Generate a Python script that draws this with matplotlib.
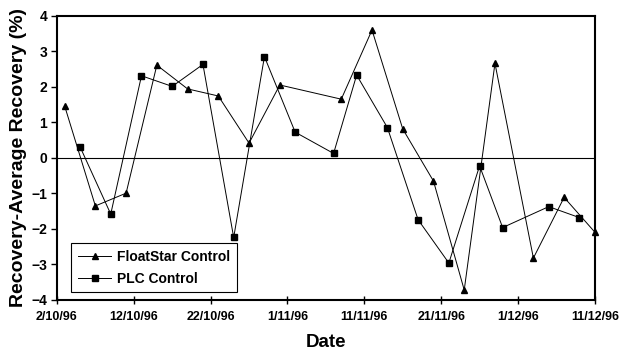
import matplotlib
matplotlib.use("Agg")
import matplotlib.pyplot as plt
import pandas as pd

plt.rcParams['font.family'] = ['Liberation Sans', 'DejaVu Sans']

# FloatStar control
fs_dates = ["1996-10-03", "1996-10-07", "1996-10-11", "1996-10-15", "1996-10-19",
            "1996-10-23", "1996-10-27", "1996-10-31", "1996-11-08", "1996-11-12",
            "1996-11-16", "1996-11-20", "1996-11-24", "1996-11-28", "1996-12-03",
            "1996-12-07", "1996-12-11"]
fs_values = [1.46, -1.36, -1.00, 2.61, 1.94, 1.74, 0.41, 2.05, 1.65, 3.60,
             0.81, -0.66, -3.73, 2.66, -2.83, -1.12, -2.10]

# PLC control
plc_dates = ["1996-10-05", "1996-10-09", "1996-10-13", "1996-10-17", "1996-10-21",
             "1996-10-25", "1996-10-29", "1996-11-02", "1996-11-07", "1996-11-10",
             "1996-11-14", "1996-11-18", "1996-11-22", "1996-11-26", "1996-11-29",
             "1996-12-05", "1996-12-09"]
plc_values = [0.31, -1.59, 2.31, 2.01, 2.63, -2.25, 2.85, 0.72, 0.12, 2.33,
              0.85, -1.75, -2.97, -0.23, -1.97, -1.38, -1.69]

tick_dates = ["1996-10-02", "1996-10-12", "1996-10-22", "1996-11-01",
              "1996-11-11", "1996-11-21", "1996-12-01", "1996-12-11"]
tick_labels = ["2/10/96", "12/10/96", "22/10/96", "1/11/96",
               "11/11/96", "21/11/96", "1/12/96", "11/12/96"]

fs_x = pd.to_datetime(fs_dates)
plc_x = pd.to_datetime(plc_dates)
ticks_x = pd.to_datetime(tick_dates)

fig = plt.figure(figsize=(6.19, 3.52), dpi=100)
ax = fig.add_axes([0.092, 0.149, 0.869, 0.806])

ax.axhline(0, color="black", lw=0.8, zorder=1)
ax.plot(fs_x, fs_values, color="black", lw=0.7, marker="^", ms=5,
        label="FloatStar Control", zorder=3, clip_on=False)
ax.plot(plc_x, plc_values, color="black", lw=0.7, marker="s", ms=5,
        label="PLC Control", zorder=3, clip_on=False)

ax.set_xlim(ticks_x[0], ticks_x[-1])
ax.set_ylim(-4, 4)
ax.set_xticks(ticks_x)
ax.set_xticklabels(tick_labels)
ax.set_yticks(range(-4, 5))

for lab in ax.get_xticklabels():
    lab.set_fontweight("bold")
    lab.set_fontsize(9)
for lab in ax.get_yticklabels():
    lab.set_fontweight("bold")
    lab.set_fontsize(10)

ax.tick_params(axis="x", direction="inout", length=6, width=1, pad=5)
ax.tick_params(axis="y", direction="out", length=4, width=1, pad=3)

for side in ["left", "bottom", "top", "right"]:
    ax.spines[side].set_linewidth(1.5)

ax.set_xlabel("Date", fontsize=13.5, fontweight="bold", labelpad=8)
ax.set_ylabel("Recovery-Average Recovery (%)", fontsize=14, fontweight="bold", labelpad=3)

leg = ax.legend(loc="lower left", bbox_to_anchor=(0.026, 0.025), fancybox=False,
                edgecolor="black", framealpha=1, prop={"weight": "bold", "size": 10},
                handlelength=2.4, handletextpad=0.4, borderpad=0.5, labelspacing=0.55,
                borderaxespad=0)
leg.get_frame().set_linewidth(0.8)

fig.savefig("out.png", dpi=100)
